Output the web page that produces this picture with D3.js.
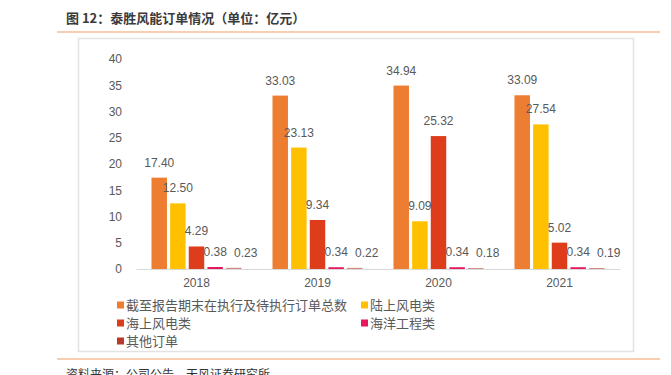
<!DOCTYPE html>
<html>
<head>
<meta charset="utf-8">
<script src="https://cdn.jsdelivr.net/npm/d3@7"></script>
<style>
  body { margin: 0; background: #fff; }
  svg { display: block; font-family: "Liberation Sans", "Noto Sans CJK SC", sans-serif; }
</style>
</head>
<body>
<div id="chart"></div>
<script>
// data
const years = ["2018", "2019", "2020", "2021"];
const seriesNames = ["截至报告期末在执行及待执行订单总数", "陆上风电类", "海上风电类", "海洋工程类", "其他订单"];
const totalOrders = [17.40, 33.03, 34.94, 33.09];
const onshore = [12.50, 23.13, 9.09, 27.54];
const offshore = [4.29, 9.34, 25.32, 5.02];
const marine = [0.38, 0.34, 0.34, 0.34];
const others = [0.23, 0.22, 0.18, 0.19];
const yTicks = [0, 5, 10, 15, 20, 25, 30, 35, 40];
const colors = ["#ED7D31", "#FFC000", "#DE3D1B", "#E8175D", "#D08A80"];
const legendColors = ["#ED7D31", "#FFC000", "#DE3D1B", "#E8175D", "#B83A2C"];

const seriesValues = [totalOrders, onshore, offshore, marine, others];

const W = 671, H = 375;
const svg = d3.select("#chart").append("svg").attr("width", W).attr("height", H);

// =====================
// HEADER / FRAME
// =====================
svg.append("text")
  .attr("x", 66).attr("y", 23)
  .style("font-family", "'Noto Sans CJK SC', sans-serif")
  .style("font-size", "13px").style("font-weight", "bold")
  .style("fill", "#3a3a3a")
  .text("图 12：泰胜风能订单情况（单位：亿元）");

svg.append("line").attr("x1", 57).attr("x2", 660).attr("y1", 32).attr("y2", 32)
  .attr("stroke", "#EFA063").attr("stroke-width", 1.2);

svg.append("rect").attr("x", 78.5).attr("y", 38.5).attr("width", 555).attr("height", 313)
  .attr("fill", "none").attr("stroke", "#e3e3e3").attr("stroke-width", 1.5);

svg.append("line").attr("x1", 57).attr("x2", 660).attr("y1", 359).attr("y2", 359)
  .attr("stroke", "#EFA063").attr("stroke-width", 1.2);

svg.append("text")
  .attr("x", 66).attr("y", 379)
  .style("font-family", "'Noto Sans CJK SC', sans-serif")
  .style("font-size", "12px").style("fill", "#333")
  .text("资料来源：公司公告，天风证券研究所");

// =====================
// SCALES
// =====================
const x0 = d3.scaleBand().domain(years).range([136, 620]).padding(0);
const x1 = d3.scaleBand().domain(d3.range(seriesNames.length))
  .range([15.5, x0.bandwidth() - 15.5]).paddingInner(0.17).paddingOuter(0);
const y = d3.scaleLinear().domain([0, 40]).range([269, 59]);

// =====================
// AXES
// =====================
const yAxis = svg.append("g").attr("transform", "translate(136,0)")
  .call(d3.axisLeft(y).tickValues(yTicks).tickSize(0).tickPadding(14));
yAxis.select(".domain").remove();
yAxis.selectAll("text").style("font-size", "12px").style("fill", "#595959");

const xAxis = svg.append("g").attr("transform", "translate(0,269)")
  .call(d3.axisBottom(x0).tickSize(0).tickPadding(9));
xAxis.select(".domain").attr("stroke", "#d9d9d9").attr("stroke-width", 1.2);
xAxis.selectAll("text").style("font-size", "12px").style("fill", "#595959");

// =====================
// BARS + LABELS
// =====================
const groups = svg.append("g").selectAll("g.year")
  .data(years).join("g")
  .attr("transform", d => `translate(${x0(d)},0)`);

groups.selectAll("rect")
  .data((yr, yi) => seriesValues.map((vals, si) => ({ si, v: vals[yi] })))
  .join("rect")
  .attr("x", d => x1(d.si))
  .attr("y", d => y(d.v))
  .attr("width", x1.bandwidth())
  .attr("height", d => y(0) - y(d.v))
  .attr("fill", d => colors[d.si]);

groups.selectAll("text.lbl")
  .data((yr, yi) => seriesValues.map((vals, si) => ({ si, v: vals[yi] })))
  .join("text")
  .attr("class", "lbl")
  .attr("x", d => x1(d.si) + x1.bandwidth() / 2 + (d.si === 4 ? 12 : 0))
  .attr("y", d => y(d.v) - 11)
  .attr("text-anchor", "middle")
  .style("font-size", "12px")
  .style("fill", "#595959")
  .text(d => d.v.toFixed(2));

// =====================
// LEGEND
// =====================
const legendPos = [[117, 305], [361, 305], [117, 323], [361, 323], [117, 341]];
const legend = svg.append("g");
seriesNames.forEach((name, i) => {
  const g = legend.append("g").attr("transform", `translate(${legendPos[i][0]},${legendPos[i][1]})`);
  g.append("rect").attr("x", 0).attr("y", -3.5).attr("width", 7).attr("height", 7)
    .attr("fill", legendColors[i]);
  g.append("text").attr("x", 9).attr("y", 4.5)
    .style("font-family", "'Noto Sans CJK SC', sans-serif")
    .style("font-size", "13px").style("fill", "#595959")
    .text(name);
});
</script>
</body>
</html>
